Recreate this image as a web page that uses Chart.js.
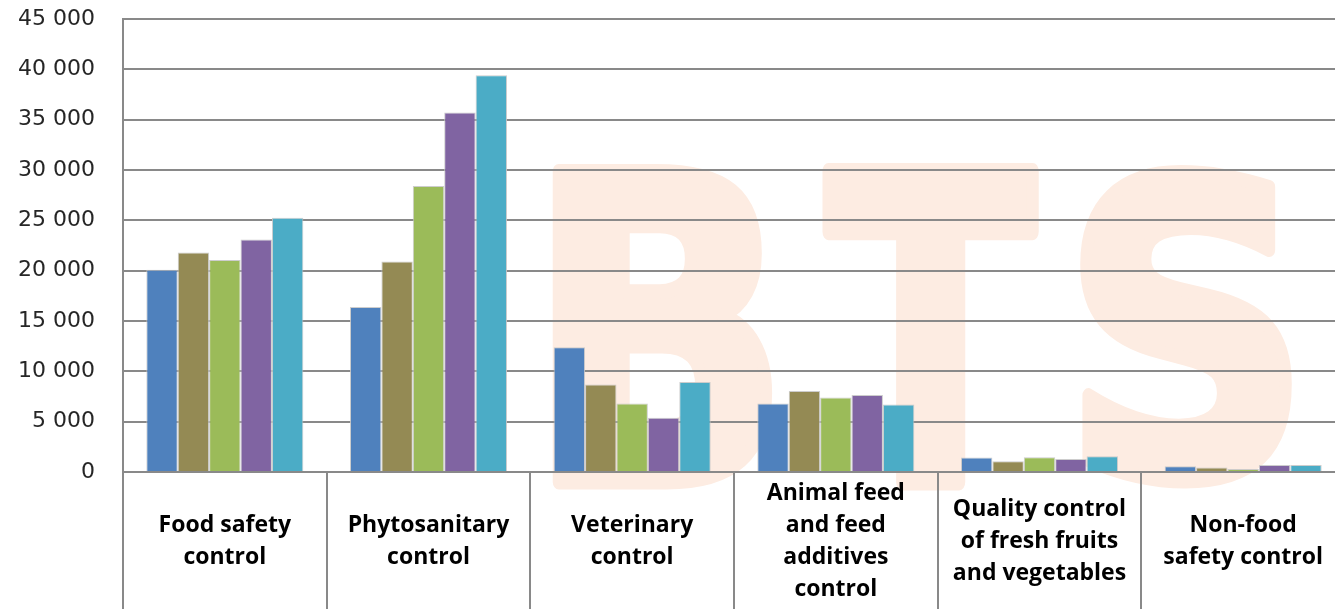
<!DOCTYPE html>
<html lang="en">
  <head>
    <meta charset="UTF-8" />
    <title>Controls</title>
    <script src="https://cdn.jsdelivr.net/npm/chart.js"></script>
    <style>
      html, body { margin: 0; padding: 0; background: #fff; overflow: hidden; }
      #wrap { width: 1345px; height: 609px; }
    </style>
  </head>
  <body>
    <div id="wrap"><canvas id="controlChart"></canvas></div>
    <script>
      const categories = [
        ["Food safety", "control"],
        ["Phytosanitary", "control"],
        ["Veterinary", "control"],
        ["Animal feed", "and feed", "additives", "control"],
        ["Quality control", "of fresh fruits", "and vegetables"],
        ["Non-food", "safety control"],
      ];
      const seriesNames = ["Series 1", "Series 2", "Series 3", "Series 4", "Series 5"];
      const series1 = [20100, 16400, 12400, 6800, 1450, 570];
      const series2 = [21800, 20900, 8700, 8050, 1060, 440];
      const series3 = [21050, 28400, 6800, 7400, 1460, 300];
      const series4 = [23100, 35700, 5400, 7650, 1300, 700];
      const series5 = [25250, 39400, 8950, 6700, 1560, 700];
      const yTicks = [0, 5000, 10000, 15000, 20000, 25000, 30000, 35000, 40000, 45000];

      const colors = ["#4f81bd", "#948a54", "#9bbb59", "#8064a2", "#4bacc6"];
      const gridColor = "#898989";

      // big "BTS" watermark behind everything
      const watermark = {
        id: "watermark",
        beforeDraw(chart) {
          const ctx = chart.ctx;
          const sw = 12; // stroke rounds the corners a bit
          ctx.save();
          ctx.fillStyle = "#fdece2";
          ctx.strokeStyle = "#fdece2";
          ctx.lineJoin = "round";
          ctx.font = "bold 400px 'DejaVu Sans'";
          const letters = [["B", 548, 776], ["T", 821, 1042], ["S", 1077, 1295]];
          letters.forEach(([ch, x0, x1]) => {
            const m = ctx.measureText(ch);
            const w = m.actualBoundingBoxRight + m.actualBoundingBoxLeft;
            const h = m.actualBoundingBoxAscent + m.actualBoundingBoxDescent;
            const sx = (x1 - x0 - sw) / w;
            const sy = (488 - 163 - sw) / h;
            ctx.save();
            ctx.translate(x0 + sw / 2, 488 - sw / 2);
            ctx.scale(sx, sy);
            ctx.lineWidth = sw / Math.min(sx, sy);
            ctx.fillText(ch, m.actualBoundingBoxLeft, -m.actualBoundingBoxDescent);
            ctx.strokeText(ch, m.actualBoundingBoxLeft, -m.actualBoundingBoxDescent);
            ctx.restore();
          });
          ctx.restore();
        },
      };

      const fmt = (v) => String(v).replace(/\B(?=(\d{3})+(?!\d))/g, " ");

      new Chart(document.getElementById("controlChart"), {
        type: "bar",
        data: {
          labels: categories,
          datasets: [series1, series2, series3, series4, series5].map((d, i) => ({
            label: seriesNames[i],
            data: d,
            backgroundColor: colors[i],
            borderColor: "rgba(200,200,200,0.9)",
            borderWidth: 1,
            categoryPercentage: 0.771,
            barPercentage: 1,
          })),
        },
        options: {
          responsive: true,
          maintainAspectRatio: false,
          animation: false,
          layout: { padding: { top: 19, left: 0, right: 0, bottom: 0 } },
          plugins: { legend: { display: false }, tooltip: { enabled: false } },
          scales: {
            x: {
              offset: true,
              grid: { offset: true, drawOnChartArea: false, drawTicks: true, tickLength: 137, color: gridColor, lineWidth: 2 },
              border: { display: false },
              ticks: {
                autoSkip: false,
                maxRotation: 0,
                minRotation: 0,
                crossAlign: "center",
                padding: -116,
                color: "#000",
                font: { family: "Open Sans", weight: "bold", size: 23, lineHeight: "32px" },
              },
              afterFit(scale) { scale.height = 137; },
            },
            y: {
              min: 0,
              max: 45000,
              afterBuildTicks(scale) { scale.ticks = yTicks.map((v) => ({ value: v })); },
              grid: { drawTicks: true, tickLength: 28, tickColor: "rgba(0,0,0,0)", color: gridColor, lineWidth: 2 },
              border: { display: true, color: gridColor, width: 2 },
              ticks: {
                padding: 0,
                color: "#262626",
                font: { family: "DejaVu Sans", size: 22 },
                callback: (v) => fmt(v),
              },
              afterFit(scale) { scale.width = 123; },
            },
          },
        },
        plugins: [watermark],
      });
    </script>
  </body>
</html>
